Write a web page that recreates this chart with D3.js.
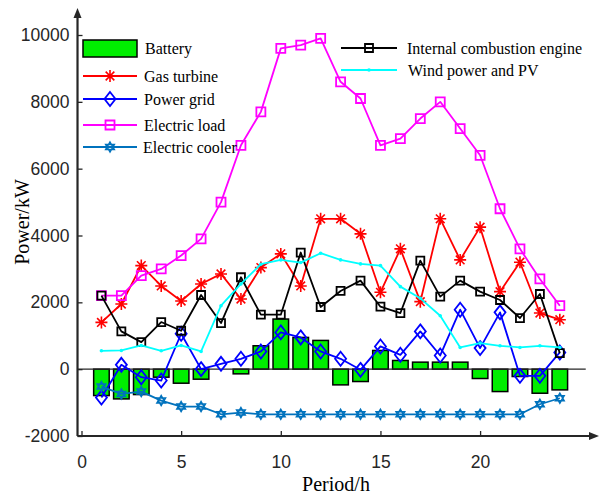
<!DOCTYPE html>
<html>
<head>
<meta charset="utf-8">
<script src="https://cdn.jsdelivr.net/npm/d3@7"></script>
<style>
  html, body { margin: 0; padding: 0; background: #fff; }
  svg { display: block; }
</style>
</head>
<body>
<svg id="chart" width="600" height="495"></svg>
<script>
// Hourly power balance, kW
const hours = d3.range(1, 25);
const battery = [-790, -890, -760, -240, -420, -300, 0, -140, 700, 1500, 950, 860,
                 -470, -370, 560, 260, 210, 210, 210, -280, -670, -220, -720, -620];
const gasTurbine = [1400, 1950, 3100, 2490, 2040, 2550, 2850, 2100, 3040, 3450, 2490, 4500,
                    4500, 4050, 2300, 3600, 2020, 4500, 3270, 4250, 2320, 3200, 1680, 1480];
const powerGrid = [-850, 130, -240, -340, 1060, 0, 160, 310, 530, 1100, 950, 530,
                   310, -20, 680, 430, 1130, 410, 1780, 630, 1700, -200, -200, 500];
const electricLoad = [2200, 2200, 2800, 3000, 3400, 3900, 5000, 6700, 7700, 9600, 9700, 9900,
                      8600, 8100, 6700, 6900, 7500, 8000, 7200, 6400, 4800, 3600, 2700, 1900];
const electricCooler = [-520, -740, -670, -940, -1120, -1120, -1350, -1300, -1350, -1350, -1350, -1350,
                        -1350, -1350, -1350, -1350, -1350, -1350, -1350, -1350, -1350, -1350, -1050, -870];
const iceEngine = [2200, 1130, 810, 1410, 1150, 2220, 1380, 2750, 1630, 1630, 3490, 1860,
                   2340, 2650, 1870, 1680, 3250, 2170, 2650, 2320, 2070, 1530, 2250, 480];
const windPV = [550, 560, 710, 550, 710, 530, 1900, 2550, 3140, 3270, 3190, 3470,
                3270, 3150, 3100, 2470, 2120, 1600, 650, 780, 700, 650, 700, 650];
const xTicks = [0, 5, 10, 15, 20];
const yTicks = [-2000, 0, 2000, 4000, 6000, 8000, 10000];

const svg = d3.select("#chart");
const axisColor = "#262626";
const serif = "'Liberation Serif', 'Times New Roman', serif";
const sans = "'Liberation Sans', Arial, sans-serif";

const x = d3.scaleLinear().domain([0, 20]).range([81.5, 480.1]);
const y = d3.scaleLinear().domain([-2000, 10000]).range([436, 35]);
const xMin = -0.2, xMax = 25.3;

// Series style definitions
const series = [
  { name: "Gas turbine", values: gasTurbine, color: "#ff0000", marker: "asterisk" },
  { name: "Power grid", values: powerGrid, color: "#0000ff", marker: "diamond" },
  { name: "Electric load", values: electricLoad, color: "#ff00ff", marker: "square" },
  { name: "Electric cooler", values: electricCooler, color: "#0072bd", marker: "hexagram" },
  { name: "Internal combustion engine", values: iceEngine, color: "#000000", marker: "smallsquare" },
  { name: "Wind power and PV", values: windPV, color: "#00ffff", marker: "dot" }
];

function markerPath(type) {
  switch (type) {
    case "asterisk": {
      const r = 6, d = r * 0.72;
      return `M${-r},0L${r},0M0,${-r}L0,${r}M${-d},${-d}L${d},${d}M${-d},${d}L${d},${-d}`;
    }
    case "diamond":
      return "M0,-7L5.5,0L0,7L-5.5,0Z";
    case "square":
      return "M-4.5,-4.5H4.5V4.5H-4.5Z";
    case "smallsquare":
      return "M-4,-4H4V4H-4Z";
    case "hexagram": {
      const r = 5;
      const tri = a => d3.range(3).map(i => {
        const t = a + i * 2 * Math.PI / 3;
        return [r * Math.cos(t), r * Math.sin(t)];
      });
      const p = pts => "M" + pts.map(q => q[0].toFixed(2) + "," + q[1].toFixed(2)).join("L") + "Z";
      return p(tri(-Math.PI / 2)) + p(tri(Math.PI / 2));
    }
    default:
      return "";
  }
}

function drawMarker(g, type, color, cx, cy) {
  if (type === "dot") {
    g.append("circle").attr("cx", cx).attr("cy", cy).attr("r", 1.8).attr("fill", color);
    return;
  }
  g.append("path")
    .attr("d", markerPath(type))
    .attr("transform", `translate(${cx},${cy})`)
    .attr("fill", "none")
    .attr("stroke", color)
    .attr("stroke-width", type === "asterisk" ? 1.6 : (type === "hexagram" ? 1.5 : 1.8));
}

// Battery bars
const barW = x(0.78) - x(0);
svg.append("g").selectAll("rect")
  .data(hours.map((h, i) => ({ h, v: battery[i] })).filter(d => d.v !== 0))
  .join("rect")
  .attr("x", d => x(d.h) - barW / 2)
  .attr("y", d => y(Math.max(0, d.v)))
  .attr("width", barW)
  .attr("height", d => Math.abs(y(d.v) - y(0)))
  .attr("fill", "#00ee00")
  .attr("stroke", "#000")
  .attr("stroke-width", 1.5);

// Bar baseline
svg.append("line")
  .attr("x1", x(xMin)).attr("x2", x(xMax))
  .attr("y1", y(0)).attr("y2", y(0))
  .attr("stroke", axisColor).attr("stroke-width", 1.3);

// Lines with markers
const line = d3.line().x((d, i) => x(hours[i])).y(d => y(d));
series.forEach(s => {
  const g = svg.append("g");
  g.append("path")
    .attr("d", line(s.values))
    .attr("fill", "none")
    .attr("stroke", s.color)
    .attr("stroke-width", 1.8)
    .attr("stroke-linejoin", "round");
  s.values.forEach((v, i) => drawMarker(g, s.marker, s.color, x(hours[i]), y(v)));
});

// Axes
const plain = d => String(d);
const axisG = svg.append("g");
const yAxis = d3.axisLeft(y).tickValues(yTicks).tickFormat(plain)
  .tickSizeInner(-5).tickSizeOuter(0).tickPadding(8);
const gy = axisG.append("g").attr("transform", `translate(${x(xMin)},0)`).call(yAxis);
gy.select(".domain").remove();
gy.selectAll(".tick line").attr("stroke", axisColor).attr("stroke-width", 1.3);
gy.selectAll(".tick text").attr("font-family", sans).attr("font-size", 17.5).attr("fill", "#262626");

const xAxis = d3.axisBottom(x).tickValues(xTicks).tickFormat(plain)
  .tickSizeInner(-5).tickSizeOuter(0).tickPadding(20);
const gx = axisG.append("g").attr("transform", `translate(0,${y(-2000)})`).call(xAxis);
gx.select(".domain").remove();
gx.selectAll(".tick line").attr("stroke", axisColor).attr("stroke-width", 1.3);
gx.selectAll(".tick text").attr("font-family", sans).attr("font-size", 17.5).attr("fill", "#262626");

// Axis lines with arrowheads
const x0 = x(xMin), yb = y(-2000);
axisG.append("line").attr("x1", x0).attr("x2", x0).attr("y1", yb).attr("y2", 14)
  .attr("stroke", axisColor).attr("stroke-width", 2.2);
axisG.append("path").attr("d", `M${x0},8L${x0 - 4},18L${x0 + 4},18Z`).attr("fill", axisColor);
axisG.append("line").attr("x1", x0).attr("x2", 592).attr("y1", yb).attr("y2", yb)
  .attr("stroke", axisColor).attr("stroke-width", 2.2);
axisG.append("path").attr("d", `M599,${yb}L589,${yb - 4}L589,${yb + 4}Z`).attr("fill", axisColor);

// Axis titles
svg.append("text")
  .attr("x", 336).attr("y", 491)
  .attr("text-anchor", "middle")
  .attr("font-family", serif).attr("font-size", 20).attr("fill", "#000")
  .text("Period/h");
svg.append("text")
  .attr("transform", "translate(29,222) rotate(-90)")
  .attr("text-anchor", "middle")
  .attr("font-family", serif).attr("font-size", 20).attr("fill", "#000")
  .text("Power/kW");

// Legend
const leg = svg.append("g").attr("font-family", serif).attr("font-size", 16).attr("fill", "#000");
leg.append("rect").attr("x", 83).attr("y", 40).attr("width", 54).attr("height", 17)
  .attr("fill", "#00ee00").attr("stroke", "#000").attr("stroke-width", 1.5);
leg.append("text").attr("x", 145).attr("y", 48).attr("dy", "0.35em").text("Battery");

const legendPos = [
  { x1: 83, x2: 137, y: 76, tx: 144 },
  { x1: 83, x2: 137, y: 99, tx: 144 },
  { x1: 83, x2: 137, y: 125, tx: 144 },
  { x1: 83, x2: 137, y: 147, tx: 143 },
  { x1: 341, x2: 397, y: 48, tx: 407 },
  { x1: 341, x2: 397, y: 70, tx: 408 }
];
series.forEach((s, i) => {
  const p = legendPos[i];
  const g = leg.append("g");
  g.append("line").attr("x1", p.x1).attr("x2", p.x2).attr("y1", p.y).attr("y2", p.y)
    .attr("stroke", s.color).attr("stroke-width", 1.8);
  drawMarker(g, s.marker, s.color, (p.x1 + p.x2) / 2, p.y);
  g.append("text").attr("x", p.tx).attr("y", p.y).attr("dy", "0.35em").text(s.name);
});
</script>
</body>
</html>
